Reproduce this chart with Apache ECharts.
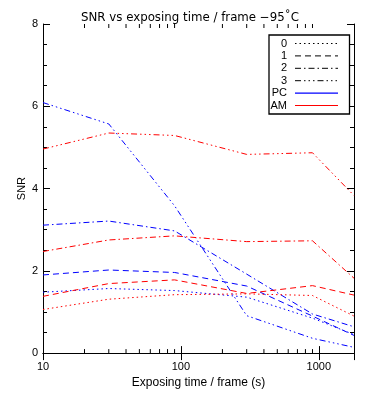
<!DOCTYPE html>
<html>
<head>
<meta charset="utf-8">
<script src="https://cdn.jsdelivr.net/npm/echarts@6/dist/echarts.min.js"></script>
<style>
  html, body { margin: 0; padding: 0; background: #fff; }
  #chart { width: 377px; height: 394px; }
</style>
</head>
<body>
<div id="chart"></div>
<script>
// exposing time per frame (s)
var times = [10, 30, 90, 300, 900, 1800];

// SNR, photon counting (blue) and analog mode (red), per detector 0..3
var pc0 = [1.48, 1.57, 1.52, 1.36, 0.85, 0.45];
var pc1 = [1.90, 2.02, 1.96, 1.63, 0.90, 0.43];
var pc2 = [3.11, 3.21, 2.97, 1.92, 0.95, 0.64];
var pc3 = [6.09, 5.57, 3.58, 0.91, 0.36, 0.14];

var am0 = [1.06, 1.31, 1.42, 1.44, 1.40, 0.90];
var am1 = [1.38, 1.69, 1.78, 1.45, 1.64, 1.41];
var am2 = [2.47, 2.75, 2.85, 2.71, 2.73, 1.82];
var am3 = [4.96, 5.35, 5.29, 4.83, 4.87, 3.83];

var legendNames = ['0', '1', '2', '3', 'PC', 'AM'];
var legendColors = ['#000', '#000', '#000', '#000', '#0000ff', '#ff0000'];
var minorTicks = [20, 30, 40, 50, 60, 70, 80, 90, 200, 300, 400, 500, 600, 700, 800, 900];

var font = 'Liberation Sans';
var dashes = [[1.5, 3], [6, 4], [6, 3, 1.5, 3], [6, 3, 1.5, 3, 1.5, 3, 1.5, 3]];
var keyDashes = dashes.concat(['solid', 'solid']);

// thin bar used as the key for the two solid colour entries
var barIcon = 'path://M0,0 L43,0 L43,1.2 L0,1.2 Z';

function pairs(ys) {
  return times.map(function (t, i) { return [t, ys[i]]; });
}

function dataLine(name, ys, color, k) {
  return {
    name: name,
    type: 'line',
    data: pairs(ys),
    symbol: 'none',
    silent: true,
    lineStyle: { color: color, width: 1, type: dashes[k] },
    z: 3
  };
}

// dummy series, only for the legend keys
function keyLine(name, i) {
  return {
    name: name,
    type: 'line',
    data: [],
    symbol: 'none',
    color: legendColors[i],
    itemStyle: { color: legendColors[i] },
    lineStyle: { color: legendColors[i], width: 1, type: keyDashes[i] }
  };
}

function legendItem(n, i) {
  if (keyDashes[i] === 'solid') {
    return {
      name: n,
      icon: barIcon,
      itemStyle: { color: legendColors[i], opacity: 1, borderWidth: 0 }
    };
  }
  return {
    name: n,
    itemStyle: { opacity: 0 },
    lineStyle: { color: legendColors[i], width: 1, type: keyDashes[i] }
  };
}

var chart = echarts.init(document.getElementById('chart'));

var option = {
  animation: false,
  backgroundColor: '#fff',
  textStyle: { fontFamily: font },
  title: {
    text: 'SNR vs exposing time / frame \u221295\u02daC',
    left: 76,
    top: 7,
    textStyle: { fontFamily: 'DejaVu Sans', fontSize: 11.8, fontWeight: 'normal', color: '#000' }
  },
  grid: { left: 43, right: 23, top: 24, bottom: 40 },
  legend: {
    data: legendNames.map(legendItem),
    orient: 'vertical',
    align: 'right',
    left: 269,
    top: 35,
    padding: [3, 11, 3, 1],
    itemWidth: 43,
    itemHeight: 10,
    itemGap: 1.4,
    symbolKeepAspect: true,
    backgroundColor: '#fff',
    borderColor: '#000',
    borderWidth: 1.3,
    borderRadius: 0,
    selectedMode: false,
    lineStyle: { width: 1 },
    textStyle: {
      fontFamily: font, fontSize: 11, lineHeight: 11, color: '#000',
      width: 17, align: 'right', padding: [0, 3, 0, 0]
    }
  },
  xAxis: [
    {
      type: 'log',
      logBase: 10,
      min: 10,
      max: 1800,
      name: 'Exposing time / frame (s)',
      nameLocation: 'middle',
      nameGap: 20,
      nameTextStyle: { fontFamily: font, fontSize: 12, color: '#000' },
      axisLine: { lineStyle: { color: '#000', width: 1 } },
      axisTick: { inside: true, length: 7, lineStyle: { color: '#000' } },
      axisLabel: {
        color: '#000', fontSize: 11, margin: 8, showMaxLabel: false,
        formatter: function (v) { return String(v); }
      },
      splitLine: { show: false }
    },
    {
      type: 'log',
      logBase: 10,
      min: 10,
      max: 1800,
      position: 'top',
      axisLine: { lineStyle: { color: '#000', width: 1 } },
      axisTick: { inside: true, length: 7, lineStyle: { color: '#000' } },
      axisLabel: { show: false },
      splitLine: { show: false }
    }
  ],
  yAxis: [
    {
      type: 'value',
      min: 0,
      max: 8,
      interval: 2,
      name: 'SNR',
      nameLocation: 'middle',
      nameGap: 16,
      nameMoveOverlap: false,
      nameTextStyle: { fontFamily: font, fontSize: 11, color: '#000' },
      axisLine: { show: true, lineStyle: { color: '#000', width: 1 } },
      axisTick: { show: true, inside: true, length: 7, lineStyle: { color: '#000' } },
      minorTick: { show: true, splitNumber: 4, length: 4, lineStyle: { color: '#000' } },
      axisLabel: { color: '#000', fontSize: 11, margin: 5 },
      splitLine: { show: false }
    },
    {
      type: 'value',
      min: 0,
      max: 8,
      interval: 2,
      position: 'right',
      axisLine: { show: true, lineStyle: { color: '#000', width: 1 } },
      axisTick: { show: true, inside: true, length: 7, lineStyle: { color: '#000' } },
      minorTick: { show: true, splitNumber: 4, length: 4, lineStyle: { color: '#000' } },
      axisLabel: { show: false },
      splitLine: { show: false }
    }
  ],
  series: [
    dataLine('PC 0', pc0, '#0000ff', 0),
    dataLine('PC 1', pc1, '#0000ff', 1),
    dataLine('PC 2', pc2, '#0000ff', 2),
    dataLine('PC 3', pc3, '#0000ff', 3),
    dataLine('AM 0', am0, '#ff0000', 0),
    dataLine('AM 1', am1, '#ff0000', 1),
    dataLine('AM 2', am2, '#ff0000', 2),
    dataLine('AM 3', am3, '#ff0000', 3)
  ].concat(legendNames.map(keyLine)).concat([
    {
      // minor log ticks on the bottom and top axes
      type: 'custom',
      silent: true,
      data: minorTicks.map(function (v) { return [v, 0]; }),
      renderItem: function (params, api) {
        var b = api.coord([api.value(0), 0]);
        var t = api.coord([api.value(0), 8]);
        var st = { stroke: '#000', lineWidth: 1 };
        return {
          type: 'group',
          children: [
            { type: 'line', shape: { x1: b[0], y1: b[1], x2: b[0], y2: b[1] - 4 }, style: st },
            { type: 'line', shape: { x1: t[0], y1: t[1], x2: t[0], y2: t[1] + 4 }, style: st }
          ]
        };
      },
      z: 4
    }
  ])
};

chart.setOption(option);
</script>
</body>
</html>
